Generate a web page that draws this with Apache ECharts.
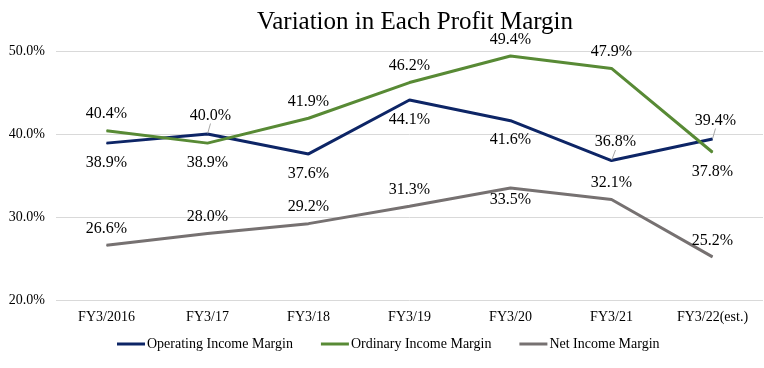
<!DOCTYPE html>
<html><head><meta charset="utf-8">
<script src="https://cdn.jsdelivr.net/npm/echarts@6/dist/echarts.min.js"></script>
<style>html,body{margin:0;padding:0;background:#fff}#c{width:764px;height:368px}</style>
</head><body><div id="c"></div>
<script>
const categories = ['FY3/2016','FY3/17','FY3/18','FY3/19','FY3/20','FY3/21','FY3/22(est.)'];
const operating = [38.9, 40.0, 37.6, 44.1, 41.6, 36.8, 39.4];
const ordinary = [40.4, 38.9, 41.9, 46.2, 49.4, 47.9, 37.8];
const netIncome = [26.6, 28.0, 29.2, 31.3, 33.5, 32.1, 25.2];
const operatingPos = ['bottom','top','bottom','bottom','bottom','top','top'];
const ordinaryPos = ['top','bottom','top','top','top','top','bottom'];
const netPos = ['top','top','top','top','bottom','top','top'];
const operatingLeader = [false, true, false, false, false, true, true];
const names = ['Operating Income Margin','Ordinary Income Margin','Net Income Margin'];
const colors = ['#0d2566','#588a35','#767171'];

const font = '"Liberation Serif","Times New Roman",serif';
function mk(vals, pos, i, leader) {
  return {
    name: names[i], type: 'line', data: vals.map((v, k) => {
      const d = {value: v, label: {position: pos[k], distance: pos[k]==='top' ? 8 : 11}};
      if (i === 2 && k === 4) d.label.distance = 3;
      if (leader && leader[k]) {
        d.label.distance = 2;
        d.labelLine = {show: true, length2: 0, lineStyle: {color: '#a6a6a6', width: 1}};
      }
      return d;
    }),
    labelLayout: leader ? (p => leader[p.dataIndex] ? {dy: -8, dx: p.dataIndex === 5 ? 4 : 3} : {}) : undefined,
    symbol: 'circle', symbolSize: 1, showSymbol: true,
    lineStyle: {width: 3, color: colors[i]}, itemStyle: {color: colors[i]},
    label: {show: true, formatter: p => p.value.toFixed(1) + '%', fontFamily: font, fontSize: 16, color: '#000'},
    emphasis: {disabled: true}, animation: false
  };
}
const chart = echarts.init(document.getElementById('c'));
chart.setOption({
  animation: false,
  title: {text: 'Variation in Each Profit Margin', left: 410, textAlign: 'center', top: 5,
    textStyle: {fontFamily: font, fontSize: 25, fontWeight: 'normal', color: '#000'}},
  grid: {left: 56, right: 1, top: 51, bottom: 68},
  legend: {bottom: 12, left: 112, icon: 'rect', itemWidth: 28, itemHeight: 3, itemGap: 28,
    textStyle: {fontFamily: font, fontSize: 14, color: '#000', padding: [0,0,0,-3]}, data: names},
  xAxis: {type: 'category', data: categories, boundaryGap: true,
    axisLine: {show: false}, axisTick: {show: false},
    axisLabel: {fontFamily: font, fontSize: 14, color: '#000', margin: 10}},
  yAxis: {type: 'value', min: 20, max: 50, interval: 10,
    axisLabel: {formatter: v => v.toFixed(1) + '%', fontFamily: font, fontSize: 14, color: '#000', margin: 11},
    splitLine: {lineStyle: {color: '#d9d9d9', width: 1}}},
  series: [mk(operating, operatingPos, 0, operatingLeader), mk(ordinary, ordinaryPos, 1), mk(netIncome, netPos, 2)]
});
</script></body></html>
